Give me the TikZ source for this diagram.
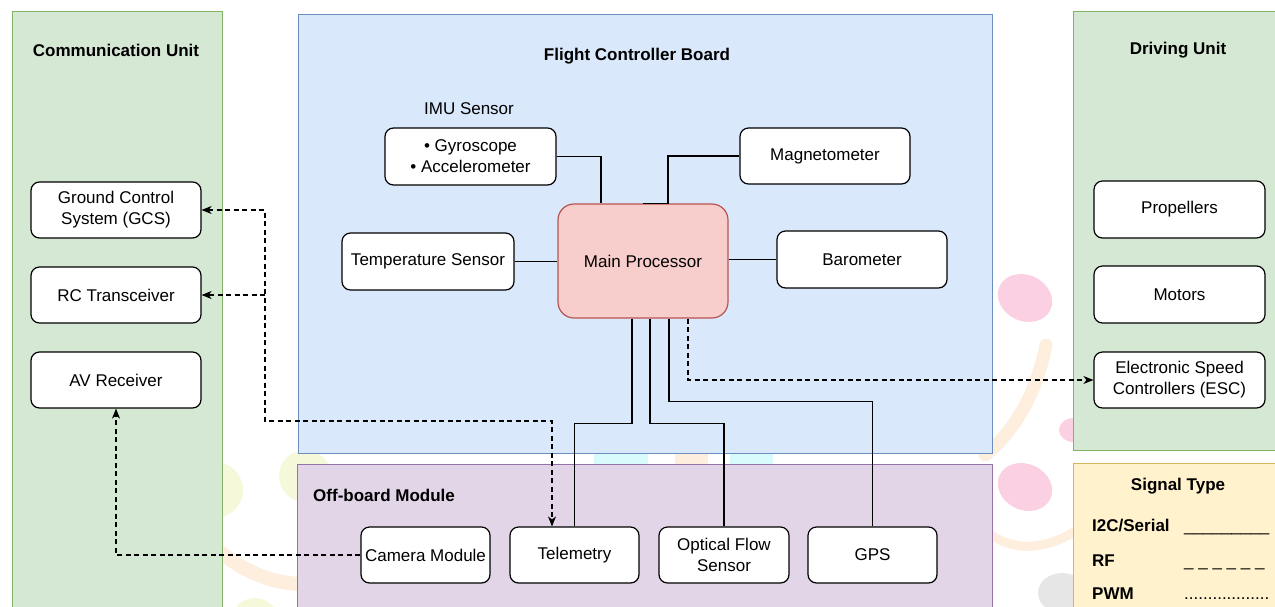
\documentclass[tikz,border=0pt]{standalone}
\usepackage{fontspec}
\setmainfont{Liberation Sans}
\usetikzlibrary{arrows.meta}

% container colours
\definecolor{grnfill}{HTML}{D5E8D4}
\definecolor{grnline}{HTML}{82B366}
\definecolor{bluefill}{HTML}{DAE8FC}
\definecolor{blueline}{HTML}{6C8EBF}
\definecolor{purfill}{HTML}{E1D5E7}
\definecolor{purline}{HTML}{9673A6}
\definecolor{redfill}{HTML}{F8CECC}
\definecolor{redline}{HTML}{B85450}
\definecolor{yelfill}{HTML}{FFF2CC}
\definecolor{yelline}{HTML}{D6B656}
% faint backdrop logo colours
\definecolor{wmpink}{HTML}{FAD0E2}
\definecolor{wmorange}{HTML}{FDEEDD}
\definecolor{wmyellow}{HTML}{F5F9DA}
\definecolor{wmcyan}{HTML}{D8FAFA}
\definecolor{wmgray}{HTML}{E6E6E6}

\tikzset{
  txt/.style={font=\fontsize{17}{21}\selectfont},
  container/.style={line width=1pt},
  title/.style={font=\fontsize{17}{21}\selectfont\bfseries, inner sep=0pt},
  block/.style={txt, draw=black, fill=white, rounded corners=8.5pt, line width=1.2pt,
    minimum width=170pt, minimum height=56pt, align=center, inner sep=1pt},
  smallblock/.style={block, minimum width=129pt},
  wire/.style={line width=1.3pt, black},
  rf/.style={line width=1.2pt, black, dash pattern=on 5pt off 3.5pt},
  tip/.tip={Stealth[length=10pt, width=8pt, inset=3pt]},
  legtxt/.style={font=\fontsize{17}{21}\selectfont\bfseries, anchor=base west, inner sep=0pt},
  legline/.style={txt, anchor=base west, inner sep=0pt}
}

\begin{document}
\begin{tikzpicture}[x=1pt, y=-1pt]
\useasboundingbox (0,0) rectangle (1275,606);
\clip (0,0) rectangle (1275,606);
\fill[white] (0,0) rectangle (1275,606);

% faint backdrop logo shapes
\fill[wmpink, rotate around={-25:(1025,298)}] (1025,298) ellipse [x radius=28, y radius=23];
\fill[wmpink, rotate around={-25:(1025,487)}] (1025,487) ellipse [x radius=28, y radius=23];
\fill[wmpink] (1074,430) ellipse [x radius=15, y radius=12];
\draw[wmorange, line width=13pt, line cap=round] (1046,345) .. controls (1035,400) and (1010,435) .. (985,455);
\draw[wmorange, line width=9pt, line cap=round] (985,530) .. controls (1010,552) and (1045,552) .. (1080,528);
\fill[wmgray] (1062,593) ellipse [x radius=24, y radius=20];
\fill[wmyellow] (305,476) circle [radius=26];
\fill[wmyellow] (215,490) circle [radius=28];
\fill[wmyellow] (255,622) circle [radius=24];
\draw[wmorange, line width=14pt, line cap=round] (212,545) .. controls (240,570) and (270,584) .. (305,584);
\fill[wmcyan] (594,453) rectangle (648,465);
\fill[wmorange] (675,453) rectangle (708,465);
\fill[wmcyan] (730,453) rectangle (773,465);

% containers
\filldraw[container, fill=grnfill, draw=grnline] (12,11) rectangle (222,625);
\filldraw[container, fill=bluefill, draw=blueline] (298,14) rectangle (992,453);
\filldraw[container, fill=purfill, draw=purline] (297,464) rectangle (992,625);
\filldraw[container, fill=grnfill, draw=grnline] (1073,11) rectangle (1295,450);
\filldraw[container, fill=yelfill, draw=yelline] (1073,463) rectangle (1295,625);

% container titles
\node[title] (commT) at (116,50) {Communication Unit};
\node[title] (fcbT) at (637,56) {Flight Controller Board};
\node[title] (drvT) at (1178,50) {Driving Unit};
\node[title, anchor=west] (offT) at (313,495) {Off-board Module};
\node[title] (sigT) at (1178,486) {Signal Type};
\node[txt, inner sep=0pt] (imuT) at (469,109) {IMU Sensor};

% communication unit
\node[block] (gcs) at (116,210) {Ground Control\\System (GCS)};
\node[block] (rc) at (116,295) {RC Transceiver};
\node[block] (av) at (116,380) {AV Receiver};

% flight controller board
\node[block, minimum width=171pt, minimum height=57pt] (imu) at (470.5,156.5) {• Gyroscope\\• Accelerometer};
\node[block] (mag) at (825,156) {Magnetometer};
\node[block, minimum width=172pt, minimum height=57pt] (temp) at (428,261.5) {Temperature Sensor};
\node[block, fill=redfill, draw=redline, rounded corners=16pt, minimum height=114pt] (mp) at (643,261) {Main Processor};
\node[block, minimum height=57pt] (baro) at (862,259.5) {Barometer};

% driving unit
\node[block, minimum width=171pt, minimum height=57pt] (prop) at (1179.5,209.5) {Propellers};
\node[block, minimum width=171pt, minimum height=57pt] (motor) at (1179.5,294.5) {Motors};
\node[block, minimum width=171pt] (esc) at (1179.5,380) {Electronic Speed\\Controllers (ESC)};

% off-board module
\node[smallblock, inner sep=0pt] (cam) at (425.5,555) {Camera Module};
\node[smallblock] (tele) at (574.5,555) {Telemetry};
\node[smallblock, minimum width=130pt] (opt) at (724,555) {Optical Flow\\Sensor};
\node[smallblock] (gps) at (872.5,555) {GPS};

% I2C / serial links
\draw[wire] (imu.east) -| ([xshift=-42pt]mp.north);
\draw[wire] (mag.west) -| ([xshift=25pt]mp.north) -- (mp.north);
\draw[wire] (temp.east) -- (temp.east -| mp.west);
\draw[wire] (mp.east |- baro.west) -- (baro.west);
\draw[wire] ([xshift=-11pt]mp.south) -- ++(0,105) -| (tele.north);
\draw[wire] ([xshift=7pt]mp.south) -- ++(0,105) -| (opt.north);
\draw[wire] ([xshift=26pt]mp.south) -- ++(0,83) -| (gps.north);

% RF links
\coordinate (rfj) at (265,295);
\draw[rf, {tip}-{tip}] (gcs.east) -| (265,421) -| ([xshift=-22.5pt]tele.north);
\draw[rf, -{tip}] (rfj) -- (rc.east);
\draw[rf, -{tip}] (cam.west) -| (av.south);

% PWM link
\draw[rf, -{tip}] ([xshift=45pt]mp.south) |- (esc.west);

% signal type legend
\node[legtxt] (l1) at (1092,531) {I2C/Serial};
\node[legline] (l1s) at (1184,531) {\_\_\_\_\_\_\_\_\_};
\node[legtxt] (l2) at (1092,566) {RF};
\node[legline] (l2s) at (1184,566) {\_ \_ \_ \_ \_ \_};
\node[legtxt] (l3) at (1092,599) {PWM};
\node[legline] (l3s) at (1184,599) {..................};
\end{tikzpicture}
\end{document}
